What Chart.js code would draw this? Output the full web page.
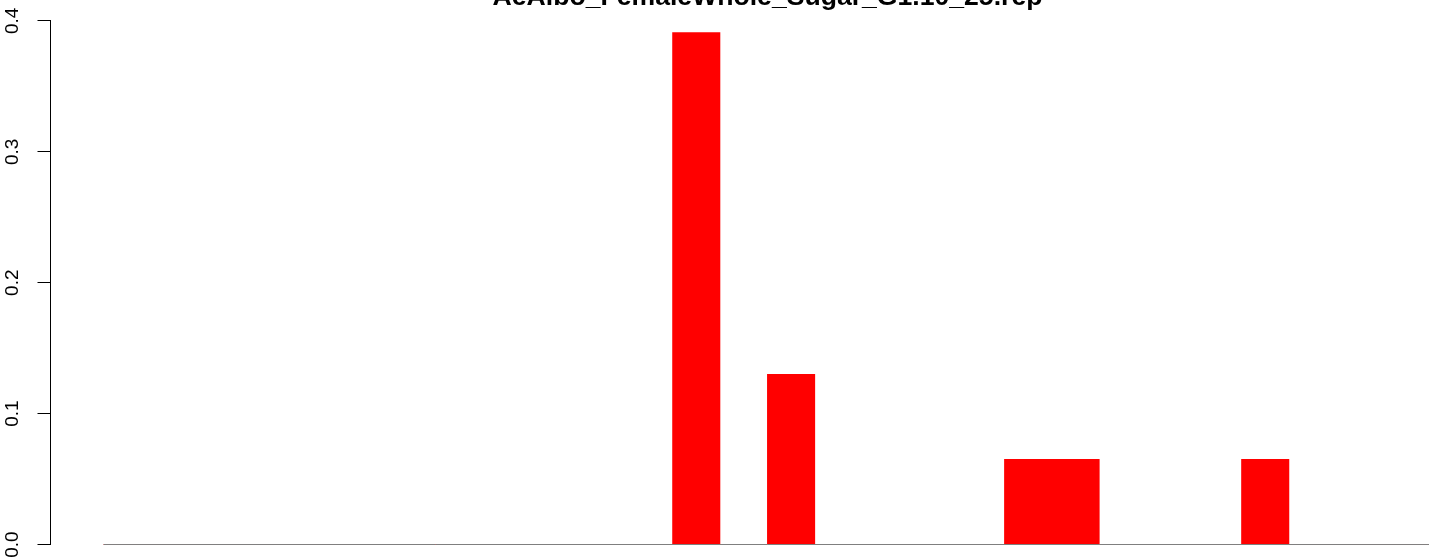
<!DOCTYPE html>
<html>
<head>
<meta charset="utf-8">
<script src="https://cdn.jsdelivr.net/npm/chart.js@4.4.1/dist/chart.umd.min.js"></script>
<style>
  html, body { margin: 0; padding: 0; background: #fff; overflow: hidden; width: 1429px; height: 560px; }
  #wrap { position: absolute; left: 0; top: -29px; width: 1535px; height: 594px; }
</style>
</head>
<body>
<div id="wrap"><canvas id="chart" width="1535" height="594"></canvas></div>
<script>
const chartTitle = "AeAlbo_FemaleWhole_Sugar_G1.10_25.rep";

// one bar per bin, bins are unit wide and touch (space = 0)
const bins = [0, 1, 2, 3, 4, 5, 6, 7, 8, 9, 10, 11, 12, 13, 14, 15, 16, 17, 18, 19, 20, 21, 22, 23, 24, 25, 26, 27];
const freq = [0, 0, 0, 0, 0, 0, 0, 0, 0, 0, 0, 0, 0.391, 0, 0.130, 0, 0, 0, 0, 0.065, 0.065, 0, 0, 0, 0.065, 0, 0, 0];

const yTicks = [0, 0.1, 0.2, 0.3, 0.4];
const yTickLabels = ["0.0", "0.1", "0.2", "0.3", "0.4"];

// R style 4% extension of the data range
const nBins = bins.length;
const yMax = Math.max(...freq);
const xMin = -0.04 * nBins;
const xMax = nBins + 0.04 * nBins + 1.07;

const axisLine = {
  id: "axisLine",
  afterDraw(chart) {
    const ys = chart.scales.y;
    const ctx = chart.ctx;
    const x = Math.round(chart.chartArea.left - 0.5) + 0.5;
    const top = Math.round(ys.getPixelForValue(yTicks[yTicks.length - 1]) - 0.5) + 0.5;
    const bottom = Math.round(ys.getPixelForValue(yTicks[0]) - 0.5) + 0.5;
    ctx.save();
    ctx.strokeStyle = "#000";
    ctx.lineWidth = 1;
    ctx.beginPath();
    ctx.moveTo(x, top - 0.5);
    ctx.lineTo(x, bottom + 0.5);
    ctx.stroke();
    ctx.restore();
  },
};

const ctx = document.getElementById("chart").getContext("2d");

new Chart(ctx, {
  type: "bar",
  data: {
    datasets: [
      {
        type: "line",
        data: [{ x: bins[0], y: 0 }, { x: bins[nBins - 1] + 1, y: 0 }],
        borderColor: "#7f7f7f",
        borderWidth: 1,
        pointRadius: 0,
        order: 0,
      },
      {
        data: bins.map((b, i) => ({ x: b + 0.5, y: freq[i] })),
        backgroundColor: "#ff0000",
        borderWidth: 0,
        categoryPercentage: 1,
        barPercentage: 1,
        order: 1,
      },
    ],
  },
  options: {
    responsive: false,
    animation: false,
    devicePixelRatio: 1,
    layout: { padding: 0 },
    scales: {
      x: {
        type: "linear",
        display: false,
        offset: false,
        min: xMin,
        max: xMax,
        afterBuildTicks: (s) => {
          s.ticks = bins.concat([nBins]).map((v) => ({ value: v }));
        },
      },
      y: {
        min: -0.04 * yMax,
        max: yMax * 1.04,
        afterBuildTicks: (s) => {
          s.ticks = yTicks.map((v) => ({ value: v }));
        },
        afterFit: (s) => {
          s.width = 50.5;
          s.paddingTop = 0;
          s.paddingBottom = 0;
        },
        border: { display: false },
        grid: {
          drawOnChartArea: false,
          color: "#000",
          tickLength: 13,
          tickWidth: 1,
        },
        ticks: {
          minRotation: 90,
          maxRotation: 90,
          crossAlign: "center",
          padding: 12,
          color: "#000",
          font: { family: "'Liberation Sans', Arial, sans-serif", size: 19 },
          callback: (v, i) => yTickLabels[i],
        },
      },
    },
    plugins: {
      legend: { display: false },
      tooltip: { enabled: false },
      title: {
        display: true,
        text: chartTitle,
        color: "#000",
        font: { family: "'Liberation Sans', Arial, sans-serif", size: 26.6, weight: "bold" },
        padding: { top: 11, bottom: -1.7 },
      },
    },
  },
  plugins: [axisLine],
});
</script>
</body>
</html>
